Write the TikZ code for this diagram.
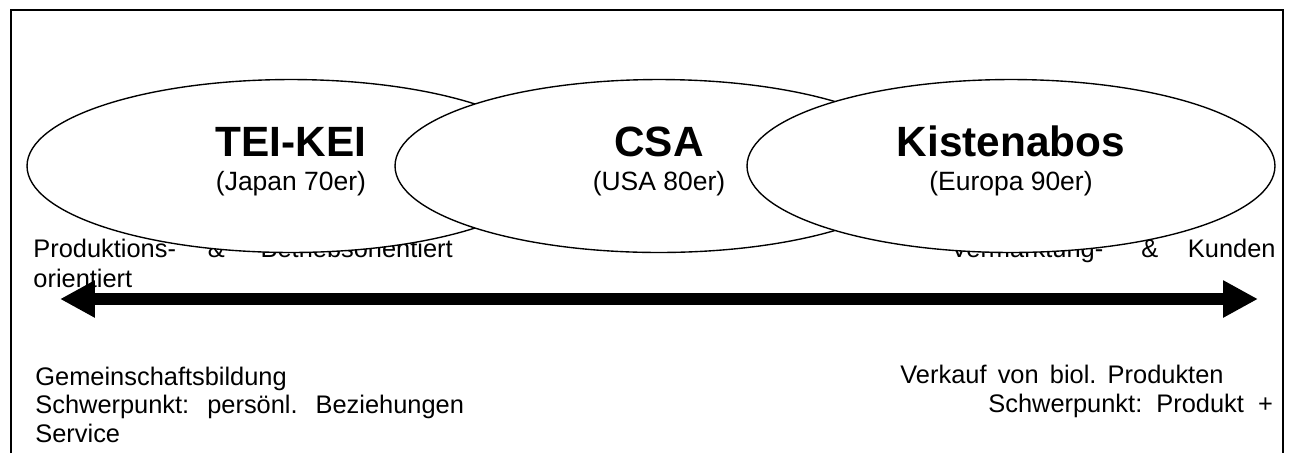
\documentclass[tikz,border=0pt]{standalone}
\usepackage{fontspec}
\setmainfont{Liberation Sans}
\usepackage{tikz}
\usetikzlibrary{shapes.geometric,arrows.meta}
\tikzset{blob/.style = {ellipse, draw, fill=white, line width=0.65pt,
    minimum width=249.4pt, minimum height=81.7pt, inner sep=0pt},
  era/.style = {font=\fontsize{20}{24}\selectfont\bfseries, inner sep=0pt, anchor=base},
  sub/.style = {font=\fontsize{12.5}{14}\selectfont, inner sep=0pt, anchor=base},
  txt/.style = {font=\fontsize{12}{14}\selectfont, inner sep=0pt, anchor=base west},
  bigtip/.tip = {Triangle[length=16.5pt,width=16.5pt]}
}

\begin{document}
\begin{tikzpicture}[x=0.4724pt,y=-0.4724pt]
  \useasboundingbox (0,0) rectangle (1290,453);
  \draw[line width=0.9pt] (11,453) -- (11,10) -- (1283,10) -- (1283,453);

  % line behind the ellipses
  \node[txt] (prod) at (33,257) {Produktions-\hspace{15pt}\&\hspace{17pt}Betriebsorientiert};
  \node[txt, anchor=base east] (kund) at (1276,257) {Vermarktung-\hspace{18pt}\&\hspace{14pt}Kunden};

  \node[blob] (teikei) at (291,166) {};
  \node[blob] (csa) at (659,166) {};
  \node[blob] (kiste) at (1011,166) {};

  \node[era] (teikei-n) at (291,156) {TEI-KEI};
  \node[sub] (teikei-s) at (291,190) {(Japan 70er)};
  \node[era] (csa-n) at (659,156) {CSA};
  \node[sub] (csa-s) at (659,190) {(USA 80er)};
  \node[era] (kiste-n) at (1011,156) {Kistenabos};
  \node[sub] (kiste-s) at (1011,190) {(Europa 90er)};

  \node[txt] (orient) at (33,287) {orientiert};

  \coordinate (west) at (60,299);
  \coordinate (east) at (1258,299);
  \draw[line width=5.67pt, bigtip-bigtip] (west) -- (east);

  \node[txt] (gemein) at (35,385) {Gemeinschaftsbildung};
  \node[txt] (pers) at (35,413) {Schwerpunkt:\hspace{8.5pt}persönl.\hspace{8.5pt}Beziehungen};
  \node[txt] (service) at (35,442) {Service};

  \node[txt] (verkauf) at (900,383) {Verkauf\hspace{5.3pt}von\hspace{5.3pt}biol.\hspace{5.3pt}Produkten};
  \node[txt] (produkt) at (988,412) {Schwerpunkt:\ \ Produkt\ \ +};
\end{tikzpicture}
\end{document}
